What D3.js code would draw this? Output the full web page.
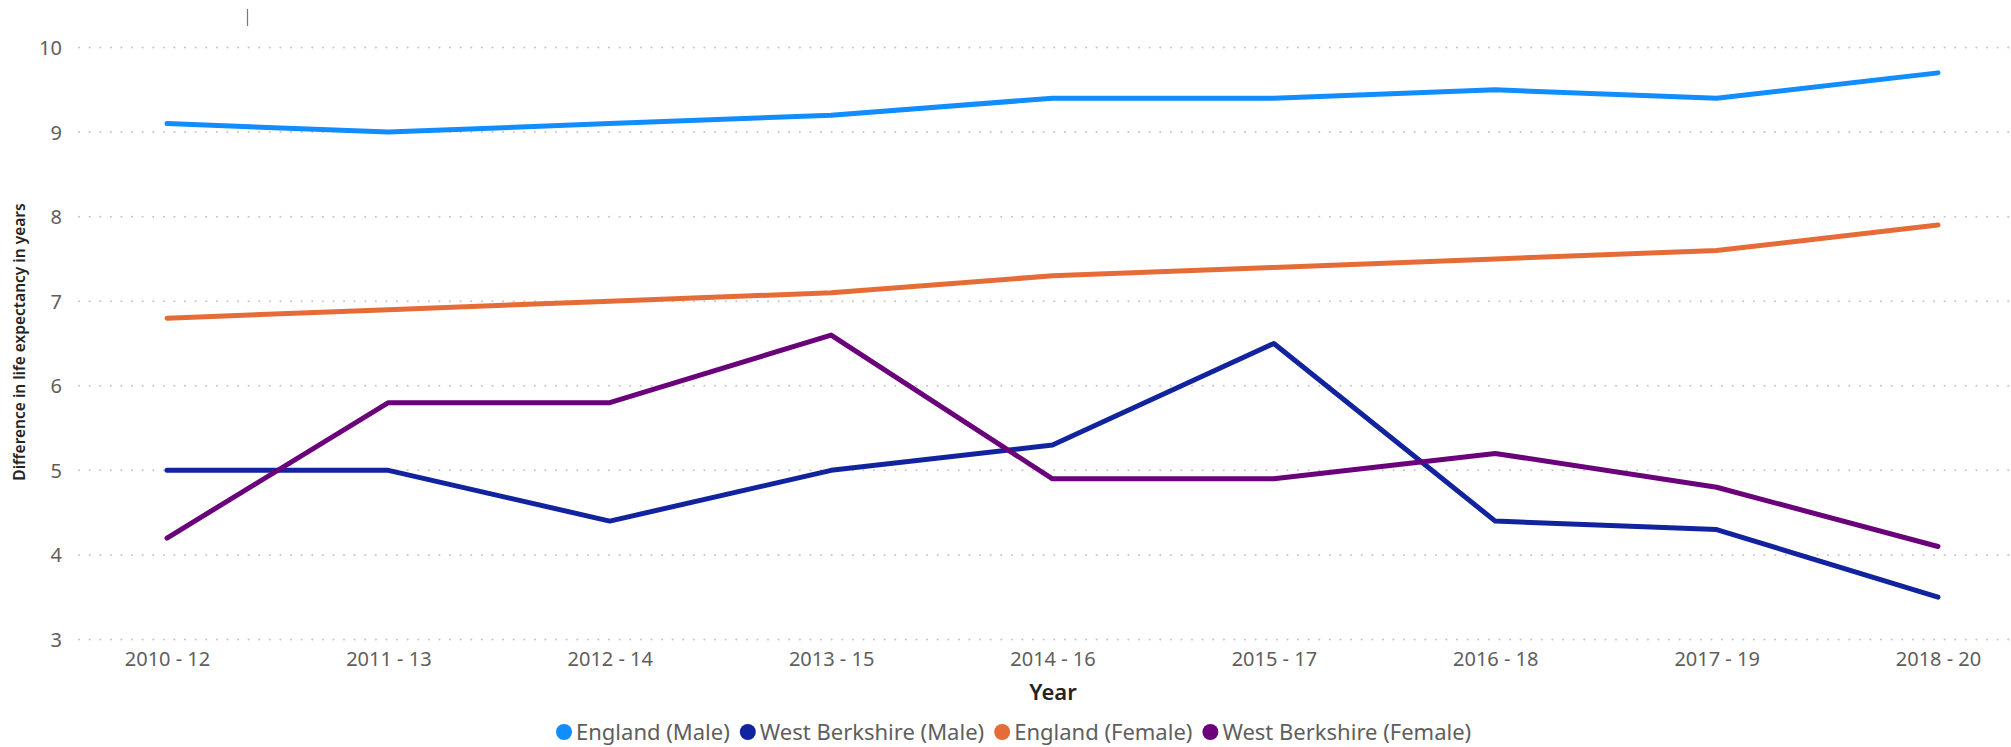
<!DOCTYPE html>
<html>
<head>
<meta charset="utf-8">
<script src="https://cdn.jsdelivr.net/npm/d3@7"></script>
<style>
  body { margin: 0; background: #fff; }
  svg { display: block; }
</style>
</head>
<body>
<svg id="chart" width="2011" height="747"></svg>
<script>
const years = ["2010 - 12", "2011 - 13", "2012 - 14", "2013 - 15", "2014 - 16", "2015 - 17", "2016 - 18", "2017 - 19", "2018 - 20"];
const englandMale = [9.1, 9.0, 9.1, 9.2, 9.4, 9.4, 9.5, 9.4, 9.7];
const westBerksMale = [5.0, 5.0, 4.4, 5.0, 5.3, 6.5, 4.4, 4.3, 3.5];
const englandFemale = [6.8, 6.9, 7.0, 7.1, 7.3, 7.4, 7.5, 7.6, 7.9];
const westBerksFemale = [4.2, 5.8, 5.8, 6.6, 4.9, 4.9, 5.2, 4.8, 4.1];
const yTicks = [3, 4, 5, 6, 7, 8, 9, 10];

const series = [
  { name: "England (Male)", values: englandMale, color: "#118DFF" },
  { name: "West Berkshire (Male)", values: westBerksMale, color: "#12239E" },
  { name: "England (Female)", values: englandFemale, color: "#E66C37" },
  { name: "West Berkshire (Female)", values: westBerksFemale, color: "#6B007B" }
];

const font = "'Segoe UI', 'Noto Sans', sans-serif";
const svg = d3.select("#chart");

const x = d3.scalePoint().domain(years).range([167, 1938]);
const y = d3.scaleLinear().domain([3, 10]).range([639.5, 47.5]);

// gridlines
svg.append("g")
  .attr("class", "grid")
  .selectAll("line")
  .data(yTicks)
  .join("line")
  .attr("x1", 79)
  .attr("x2", 2011)
  .attr("y1", (d) => y(d))
  .attr("y2", (d) => y(d))
  .attr("stroke", "#c8c6c4")
  .attr("stroke-width", 2)
  .attr("stroke-linecap", "round")
  .attr("stroke-dasharray", "0.1,10.5");

// y axis labels
const yAxis = svg.append("g")
  .attr("transform", "translate(62,0)")
  .call(d3.axisLeft(y).tickValues(yTicks).tickFormat(d3.format("d")).tickSize(0).tickPadding(0));
yAxis.select(".domain").remove();
yAxis.selectAll("text")
  .attr("font-family", font)
  .attr("font-size", 20)
  .attr("fill", "#605E5C")
  .attr("dy", "0.35em");

// x axis labels
const xAxis = svg.append("g")
  .attr("transform", "translate(0,647)")
  .call(d3.axisBottom(x).tickSize(0).tickPadding(0));
xAxis.select(".domain").remove();
xAxis.selectAll("text")
  .attr("font-family", font)
  .attr("font-size", 20)
  .attr("fill", "#605E5C")
  .attr("dy", "0.95em");

// axis titles
svg.append("text")
  .attr("x", 1053)
  .attr("y", 700)
  .attr("text-anchor", "middle")
  .attr("font-family", font)
  .attr("font-size", 22)
  .attr("font-weight", 600)
  .attr("fill", "#252423")
  .text("Year");

svg.append("text")
  .attr("transform", "translate(25,342) rotate(-90)")
  .attr("text-anchor", "middle")
  .attr("font-family", font)
  .attr("font-size", 15.5)
  .attr("font-weight", 600)
  .attr("fill", "#252423")
  .text("Difference in life expectancy in years");

// small cursor mark at top
svg.append("line")
  .attr("x1", 247.5).attr("x2", 247.5)
  .attr("y1", 9).attr("y2", 26)
  .attr("stroke", "#777")
  .attr("stroke-width", 1.2);

// lines
const line = d3.line()
  .x((d, i) => x(years[i]))
  .y((d) => y(d));

svg.append("g")
  .selectAll("path")
  .data(series)
  .join("path")
  .attr("d", (d) => line(d.values))
  .attr("fill", "none")
  .attr("stroke", (d) => d.color)
  .attr("stroke-width", 5)
  .attr("stroke-linejoin", "round")
  .attr("stroke-linecap", "round");

// legend
const legend = svg.append("g").attr("class", "legend");
let lx = 556;
series.forEach((s) => {
  const g = legend.append("g").attr("transform", `translate(${lx},0)`);
  g.append("circle")
    .attr("cx", 8)
    .attr("cy", 732)
    .attr("r", 8)
    .attr("fill", s.color);
  const t = g.append("text")
    .attr("x", 20)
    .attr("y", 739.5)
    .attr("font-family", font)
    .attr("font-size", 22)
    .attr("fill", "#605E5C")
    .text(s.name);
  lx += 20 + t.node().getComputedTextLength() + 10;
});
</script>
</body>
</html>
